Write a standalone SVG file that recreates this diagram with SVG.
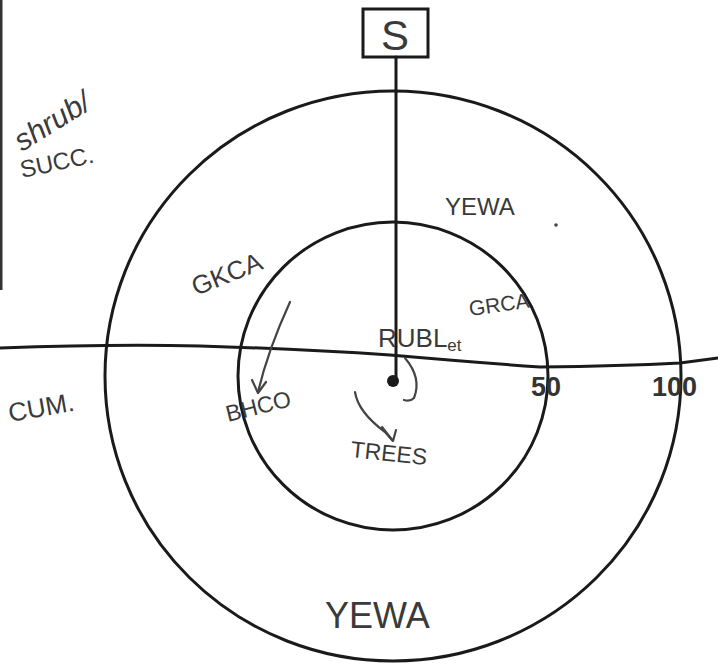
<svg xmlns="http://www.w3.org/2000/svg" width="718" height="666" viewBox="0 0 718 666">
<style>
.ln{fill:none;stroke:#1a1a1a;stroke-width:3;stroke-linecap:round}
.hw{fill:none;stroke:#444;stroke-width:2.2;stroke-linecap:round;stroke-linejoin:round}
.t{font-family:"Liberation Sans",Arial,sans-serif;fill:#3a3a3a}
.n{font-family:"Liberation Sans",Arial,sans-serif;font-weight:bold;fill:#333;font-size:27px}
</style>
<rect width="718" height="666" fill="#fff"/>
<line x1="1" y1="0" x2="1" y2="290" stroke="#333" stroke-width="3"/>
<g id="outer-circle"><ellipse cx="393" cy="376" rx="288" ry="285" class="ln"/></g>
<g id="inner-circle"><ellipse cx="393" cy="376" rx="155" ry="154" class="ln"/></g>
<g id="axis"><path d="M0 348 Q110 344 200 346 Q300 349 390 355 Q470 362 540 367 Q620 366 680 363 L718 358" class="ln" stroke-width="2.5"/></g>
<g id="S"><rect x="363" y="9" width="65" height="48" fill="#fff" stroke="#1a1a1a" stroke-width="3"/><text x="395" y="50" text-anchor="middle" class="t" font-size="42" fill="#222">S</text></g>
<g id="connectors">
<line x1="396" y1="57" x2="396" y2="380" class="ln" stroke-width="2.5"/>
<circle cx="393" cy="381" r="6" fill="#1a1a1a"/>
<path d="M290 302 Q268 350 258 392" class="hw" stroke="#333" stroke-width="2.6"/>
<path d="M252 380 L258 393 L266 382" class="hw" stroke="#333" stroke-width="2.6"/>
<path d="M355 392 Q358 412 385 432 L392 440" class="hw"/>
<path d="M382 427 L393 441 L396 430" class="hw"/>
<path d="M405 358 Q422 378 414 398 Q410 402 404 400" class="hw"/>
</g>
<g id="labels">
<text transform="translate(22,152) rotate(-32)" class="t" font-size="30" font-style="italic">shrub/</text>
<text transform="translate(22,178) rotate(-12)" class="t" font-size="24">SUCC.</text>
<text x="445" y="215" class="t" font-size="24">YEWA</text>
<circle cx="556" cy="225" r="1.8" fill="#444"/>
<text transform="translate(196,296) rotate(-22)" class="t" font-size="26">GKCA</text>
<text transform="translate(470,316) rotate(-8)" class="t" font-size="21">GRCA</text>
<text x="378" y="347" class="t" font-size="26">RUBL<tspan font-size="17" dy="4">et</tspan></text>
<text transform="translate(228,422) rotate(-14)" class="t" font-size="23">BHCO</text>
<text transform="translate(350,457) rotate(6)" class="t" font-size="23">TREES</text>
<text transform="translate(10,422) rotate(-10)" class="t" font-size="26">CUM.</text>
<text x="325" y="628" class="t" font-size="36">YEWA</text>
<text x="531" y="396" class="n">50</text>
<text x="652" y="396" class="n">100</text>
</g>
</svg>
